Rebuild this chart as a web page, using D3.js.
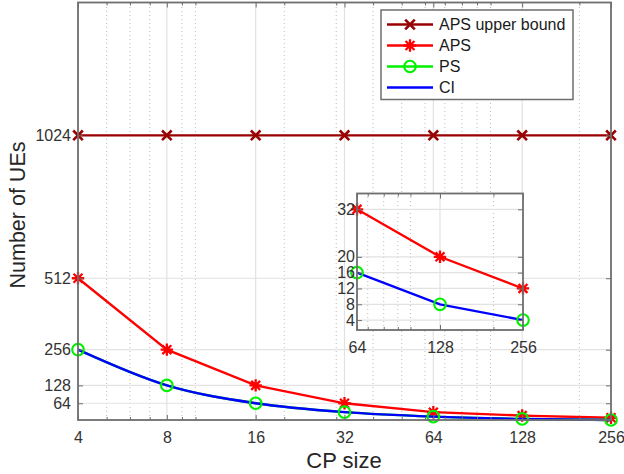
<!DOCTYPE html>
<html>
<head>
<meta charset="utf-8">
<script src="https://cdn.jsdelivr.net/npm/d3@7"></script>
<style>
  html, body { margin: 0; padding: 0; background: #fff; }
  svg { display: block; font-family: "Liberation Sans", Arial, Helvetica, sans-serif; }
  .tick text { fill: #333; }
</style>
</head>
<body>
<svg id="chart" width="624" height="474"></svg>
<script>
// ---- data -------------------------------------------------------------
const cpSizes      = [4, 8, 16, 32, 64, 128, 256];
const apsUpper     = [1024, 1024, 1024, 1024, 1024, 1024, 1024];
const aps          = [512, 256, 128, 64, 32, 20, 12];
const ps           = [256, 128, 64, 32, 16, 8, 4];
const ci           = [256, 128, 64, 32, 16, 8, 4];

const yTicks       = [64, 128, 256, 512, 1024];
const xMinorTicks  = [5, 6, 7, 9, 10, 20, 30, 40, 50, 60, 70, 80, 90, 100, 200];

// zoomed inset (last three CP sizes)
const insetSizes      = [64, 128, 256];
const insetYTicks     = [4, 8, 12, 16, 20, 32];
const insetMinorTicks = [70, 80, 90, 100, 200];

const seriesNames = ["APS upper bound", "APS", "PS", "CI"];
const colors = { upper: "#990000", aps: "#ff0000", ps: "#00f000", ci: "#0000ff" };

// ---- layout -----------------------------------------------------------
const svg = d3.select("#chart");
const axisColor = "#6e6e6e";
const gridColor = "#e2e2e2";
const minorColor = "#bcbcbc";

const x = d3.scaleLog().base(2).domain([4, 256]).range([78, 611]);
const y = d3.scaleLinear().domain([4, 1500]).range([420, 2.5]);

const rows = cpSizes.map((c, i) => ({ c, upper: apsUpper[i], aps: aps[i], ps: ps[i], ci: ci[i] }));

// ---- marker helpers ---------------------------------------------------
function crossMarker(g, cx, cy, color, s) {
  g.append("path")
    .attr("d", `M${cx - s},${cy - s}L${cx + s},${cy + s}M${cx - s},${cy + s}L${cx + s},${cy - s}`)
    .attr("stroke", color).attr("stroke-width", 2.6).attr("fill", "none");
}
function starMarker(g, cx, cy, color, s) {
  const d = s * 0.72;
  g.append("path")
    .attr("d", `M${cx},${cy - s}L${cx},${cy + s}M${cx - s},${cy}L${cx + s},${cy}` +
               `M${cx - d},${cy - d}L${cx + d},${cy + d}M${cx - d},${cy + d}L${cx + d},${cy - d}`)
    .attr("stroke", color).attr("stroke-width", 2.3).attr("fill", "none");
}
function circleMarker(g, cx, cy, color, r) {
  g.append("circle").attr("cx", cx).attr("cy", cy).attr("r", r)
    .attr("stroke", color).attr("stroke-width", 2.1).attr("fill", "none");
}

// ---- generic axes drawing (grid, box, ticks) --------------------------
function drawFrame(g, xs, ys, majorX, minorX, majorY, opts) {
  const [x0, x1] = xs.range();
  const [y0, y1] = ys.range(); // y0 bottom, y1 top
  if (opts.background) {
    g.append("rect").attr("x", x0).attr("y", y1).attr("width", x1 - x0).attr("height", y0 - y1)
      .attr("fill", "#fff");
  }
  // minor vertical grid (dotted)
  g.append("g").selectAll("line").data(minorX).join("line")
    .attr("x1", d => xs(d)).attr("x2", d => xs(d)).attr("y1", y0).attr("y2", y1)
    .attr("stroke", minorColor).attr("stroke-width", 1).attr("stroke-dasharray", "1,3");
  // major vertical grid
  g.append("g").selectAll("line").data(majorX.slice(1, -1)).join("line")
    .attr("x1", d => xs(d)).attr("x2", d => xs(d)).attr("y1", y0).attr("y2", y1)
    .attr("stroke", gridColor).attr("stroke-width", 1.2);
  // major horizontal grid
  g.append("g").selectAll("line").data(majorY).join("line")
    .attr("x1", x0).attr("x2", x1).attr("y1", d => ys(d)).attr("y2", d => ys(d))
    .attr("stroke", gridColor).attr("stroke-width", 1.2);
}

function drawAxes(g, xs, ys, majorX, minorX, majorY, labelSize) {
  const [x0, x1] = xs.range();
  const [y0, y1] = ys.range();
  const fmt = d3.format("d");

  const bottom = g.append("g").attr("transform", `translate(0,${y0})`)
    .call(d3.axisBottom(xs).tickValues(majorX).tickFormat(fmt).tickSize(-5).tickPadding(12));
  const top = g.append("g").attr("transform", `translate(0,${y1})`)
    .call(d3.axisTop(xs).tickValues(majorX).tickFormat("").tickSize(-5));
  const left = g.append("g").attr("transform", `translate(${x0},0)`)
    .call(d3.axisLeft(ys).tickValues(majorY).tickFormat(fmt).tickSize(-5).tickPadding(7));
  const right = g.append("g").attr("transform", `translate(${x1},0)`)
    .call(d3.axisRight(ys).tickValues(majorY).tickFormat("").tickSize(-5));
  // minor ticks on bottom/top
  g.append("g").attr("transform", `translate(0,${y0})`)
    .call(d3.axisBottom(xs).tickValues(minorX).tickFormat("").tickSize(-3))
    .call(a => a.select(".domain").remove());
  g.append("g").attr("transform", `translate(0,${y1})`)
    .call(d3.axisTop(xs).tickValues(minorX).tickFormat("").tickSize(-3))
    .call(a => a.select(".domain").remove());

  [bottom, top, left, right].forEach(a => {
    a.select(".domain").remove();
    a.selectAll(".tick text").attr("font-size", labelSize)
      .attr("font-family", "'Liberation Sans', Arial, sans-serif");
  });
  g.selectAll(".tick line").attr("stroke", axisColor).attr("stroke-width", 1);

  // box
  g.append("rect").attr("x", x0).attr("y", y1).attr("width", x1 - x0).attr("height", y0 - y1)
    .attr("fill", "none").attr("stroke", axisColor).attr("stroke-width", 1.8);
}

// ---- main axes --------------------------------------------------------
const main = svg.append("g");
drawFrame(main, x, y, cpSizes, xMinorTicks, yTicks, {});

const plot = main.append("g");
const lineUpper = d3.line().x(d => x(d.c)).y(d => y(d.upper));
const lineAps   = d3.line().x(d => x(d.c)).y(d => y(d.aps));
const linePs    = d3.line().x(d => x(d.c)).y(d => y(d.ps)).curve(d3.curveMonotoneX);
const lineCi    = d3.line().x(d => x(d.c)).y(d => y(d.ci)).curve(d3.curveMonotoneX);

plot.append("path").datum(rows).attr("d", lineUpper)
  .attr("fill", "none").attr("stroke", colors.upper).attr("stroke-width", 2.3);
rows.forEach(r => crossMarker(plot, x(r.c), y(r.upper), colors.upper, 4.8));

plot.append("path").datum(rows).attr("d", lineAps)
  .attr("fill", "none").attr("stroke", colors.aps).attr("stroke-width", 2.3);
rows.forEach(r => starMarker(plot, x(r.c), y(r.aps), colors.aps, 6.2));

plot.append("path").datum(rows).attr("d", linePs)
  .attr("fill", "none").attr("stroke", colors.ps).attr("stroke-width", 2.3);
plot.append("path").datum(rows).attr("d", lineCi)
  .attr("fill", "none").attr("stroke", colors.ci).attr("stroke-width", 2.3);
rows.forEach(r => circleMarker(plot, x(r.c), y(r.ps), colors.ps, 5.8));

drawAxes(main, x, y, cpSizes, xMinorTicks, yTicks, 16);

// axis titles
svg.append("text").attr("x", 344).attr("y", 467.5).attr("text-anchor", "middle")
  .attr("font-size", 22).attr("fill", "#262626").text("CP size");
svg.append("text").attr("transform", "translate(25,215) rotate(-90)").attr("text-anchor", "middle")
  .attr("font-size", 21.5).attr("fill", "#262626").text("Number of UEs");

// ---- inset ------------------------------------------------------------
const xi = d3.scaleLog().base(2).domain([64, 256]).range([357, 523]);
const yi = d3.scaleLinear().domain([1.5, 36]).range([330, 193.5]);
const insetRows = rows.filter(r => insetSizes.includes(r.c));

const inset = svg.append("g");
drawFrame(inset, xi, yi, insetSizes, insetMinorTicks, insetYTicks, { background: true });

const iAps = d3.line().x(d => xi(d.c)).y(d => yi(d.aps));
const iCi  = d3.line().x(d => xi(d.c)).y(d => yi(d.ci));
inset.append("path").datum(insetRows).attr("d", iAps)
  .attr("fill", "none").attr("stroke", colors.aps).attr("stroke-width", 2.3);
insetRows.forEach(r => starMarker(inset, xi(r.c), yi(r.aps), colors.aps, 6.2));
inset.append("path").datum(insetRows).attr("d", iCi)
  .attr("fill", "none").attr("stroke", colors.ci).attr("stroke-width", 2.3);
insetRows.forEach(r => circleMarker(inset, xi(r.c), yi(r.ps), colors.ps, 5.8));

drawAxes(inset, xi, yi, insetSizes, insetMinorTicks, insetYTicks, 16);
// inset tick labels sit closer to the inset frame
inset.selectAll(".tick text").each(function () {
  const t = d3.select(this);
  if (t.attr("x") !== null && +t.attr("x") < 0) t.attr("x", -2);
});

// ---- legend -----------------------------------------------------------
const legend = svg.append("g");
legend.append("rect").attr("x", 381).attr("y", 10).attr("width", 192).attr("height", 89.5)
  .attr("fill", "#fff").attr("stroke", axisColor).attr("stroke-width", 1.5);
const legendRows = [24.5, 45.5, 66.5, 87.5];
const legendColors = [colors.upper, colors.aps, colors.ps, colors.ci];
seriesNames.forEach((name, i) => {
  const ly = legendRows[i];
  legend.append("line").attr("x1", 387).attr("x2", 433).attr("y1", ly).attr("y2", ly)
    .attr("stroke", legendColors[i]).attr("stroke-width", 2.3);
  if (i === 0) crossMarker(legend, 410, ly, colors.upper, 4.8);
  if (i === 1) starMarker(legend, 410, ly, colors.aps, 6.2);
  if (i === 2) circleMarker(legend, 410, ly, colors.ps, 5.8);
  legend.append("text").attr("x", 439).attr("y", ly).attr("dy", "0.36em")
    .attr("font-size", 16).attr("fill", "#1a1a1a").text(name);
});
</script>
</body>
</html>
